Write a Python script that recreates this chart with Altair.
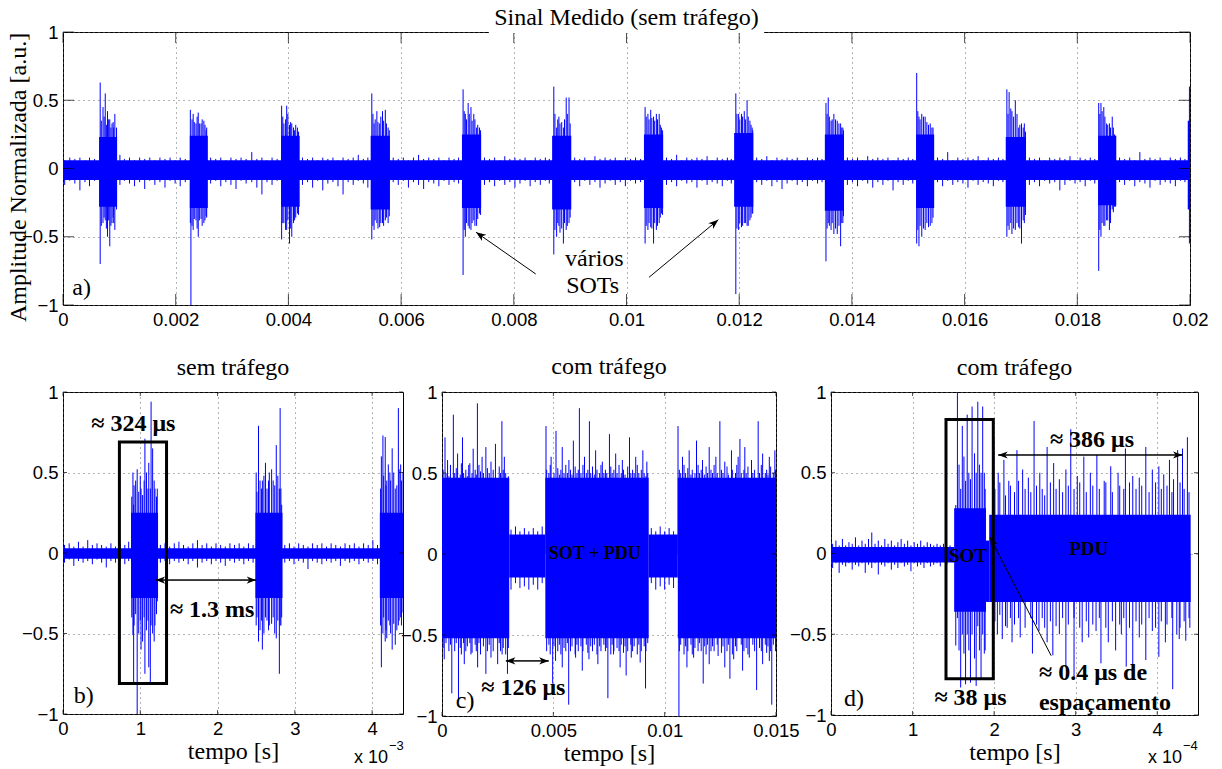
import math
import altair as alt
import pandas as pd

SERIF = "Liberation Serif"
SANS = "Liberation Sans"
BLUE = "#0000ff"
ARROW = "M0,0L-1,-0.38L-0.72,0L-1,0.38Z"

Y_TICKS = [-1, -0.5, 0, 0.5, 1]

# ---------------- panel a: Sinal Medido (sem trafego) ----------------
A_TITLE = "Sinal Medido (sem tráfego)"
A_X_TICKS = [0, 0.002, 0.004, 0.006, 0.008, 0.01, 0.012, 0.014, 0.016, 0.018, 0.02]
A_BASE = [(0.0, 0.02, -0.085, 0.06)]
A_BURSTS = [
    (0.00064, 0.00096, -0.28, 0.23), (0.00225, 0.00257, -0.29, 0.24),
    (0.00387, 0.00420, -0.28, 0.24), (0.00546, 0.00580, -0.30, 0.24),
    (0.00708, 0.00742, -0.29, 0.25), (0.00868, 0.00902, -0.30, 0.24),
    (0.01031, 0.01065, -0.29, 0.25), (0.01191, 0.01225, -0.28, 0.26),
    (0.01352, 0.01386, -0.31, 0.25), (0.01514, 0.01546, -0.29, 0.25),
    (0.01673, 0.01709, -0.28, 0.23), (0.01837, 0.01869, -0.27, 0.24),
    (0.01996, 0.02000, -0.30, 0.35),
]
A_SPIKES = [
    (0.00066, -0.70, 0.63), (0.00071, -0.40, 0.45), (0.00075, -0.38, 0.55), (0.00079, -0.50, 0.42),
    (0.00083, -0.57, 0.36), (0.00087, -0.40, 0.33), (0.00092, -0.45, 0.40), (0.00095, -0.30, 0.30),
    (0.00068, -0.42, 0.35), (0.00073, -0.36, 0.38), (0.00077, -0.44, 0.32), (0.00081, -0.38, 0.36),
    (0.00085, -0.42, 0.30), (0.00089, -0.36, 0.34), (0.00090, -0.40, 0.30),
    (0.00226, -0.40, 0.43), (0.00227, -1.00, 0.20), (0.00231, -0.45, 0.40), (0.00236, -0.38, 0.33),
    (0.00240, -0.50, 0.41), (0.00245, -0.37, 0.33), (0.00250, -0.40, 0.35), (0.00255, -0.36, 0.30),
    (0.00229, -0.42, 0.36), (0.00233, -0.37, 0.34), (0.00238, -0.44, 0.38), (0.00242, -0.38, 0.33),
    (0.00247, -0.42, 0.36), (0.00252, -0.38, 0.32), (0.00254, -0.35, 0.28),
    (0.00388, -0.52, 0.46), (0.00392, -0.40, 0.33), (0.00397, -0.45, 0.46), (0.00402, -0.55, 0.32),
    (0.00406, -0.50, 0.33), (0.00411, -0.38, 0.28), (0.00416, -0.33, 0.30),
    (0.00390, -0.40, 0.38), (0.00395, -0.45, 0.36), (0.00399, -0.38, 0.40), (0.00404, -0.44, 0.34),
    (0.00409, -0.40, 0.30), (0.00413, -0.36, 0.32), (0.00418, -0.34, 0.27),
    (0.00548, -0.52, 0.55), (0.00552, -0.45, 0.33), (0.00557, -0.40, 0.42), (0.00562, -0.43, 0.33),
    (0.00567, -0.40, 0.42), (0.00572, -0.38, 0.43), (0.00577, -0.40, 0.30),
    (0.00550, -0.42, 0.40), (0.00554, -0.38, 0.36), (0.00559, -0.44, 0.34), (0.00564, -0.40, 0.38),
    (0.00569, -0.42, 0.35), (0.00574, -0.36, 0.33), (0.00579, -0.35, 0.28),
    (0.00710, -0.78, 0.58), (0.00714, -0.50, 0.40), (0.00719, -0.42, 0.48), (0.00724, -0.45, 0.45),
    (0.00729, -0.38, 0.40), (0.00734, -0.42, 0.30), (0.00739, -0.33, 0.30),
    (0.00712, -0.45, 0.42), (0.00716, -0.40, 0.36), (0.00721, -0.44, 0.40), (0.00726, -0.40, 0.35),
    (0.00731, -0.42, 0.36), (0.00736, -0.37, 0.32), (0.00741, -0.34, 0.28),
    (0.00871, -0.63, 0.60), (0.00876, -0.50, 0.30), (0.00882, -0.47, 0.33), (0.00888, -0.55, 0.30),
    (0.00893, -0.45, 0.52), (0.00898, -0.40, 0.52),
    (0.00873, -0.45, 0.40), (0.00878, -0.40, 0.36), (0.00880, -0.42, 0.38), (0.00885, -0.44, 0.34),
    (0.00890, -0.40, 0.36), (0.00895, -0.42, 0.40), (0.00900, -0.36, 0.33),
    (0.01033, -0.55, 0.45), (0.01038, -0.45, 0.40), (0.01043, -0.43, 0.43), (0.01048, -0.55, 0.38),
    (0.01053, -0.45, 0.40), (0.01058, -0.40, 0.40), (0.01062, -0.33, 0.30),
    (0.01035, -0.42, 0.38), (0.01040, -0.40, 0.36), (0.01045, -0.44, 0.37), (0.01050, -0.40, 0.35),
    (0.01055, -0.42, 0.36), (0.01060, -0.36, 0.32), (0.01064, -0.34, 0.28),
    (0.01194, -0.92, 0.55), (0.01199, -0.45, 0.40), (0.01204, -0.43, 0.40), (0.01209, -0.40, 0.42),
    (0.01214, -0.42, 0.50), (0.01219, -0.38, 0.35), (0.01223, -0.33, 0.30),
    (0.01196, -0.44, 0.40), (0.01201, -0.40, 0.36), (0.01206, -0.42, 0.38), (0.01211, -0.40, 0.36),
    (0.01216, -0.42, 0.38), (0.01221, -0.36, 0.32), (0.01224, -0.33, 0.28),
    (0.01354, -0.68, 0.48), (0.01358, -0.40, 0.52), (0.01363, -0.45, 0.35), (0.01368, -0.48, 0.40),
    (0.01374, -0.48, 0.35), (0.01380, -0.57, 0.33), (0.01384, -0.40, 0.30),
    (0.01356, -0.44, 0.40), (0.01360, -0.42, 0.38), (0.01365, -0.40, 0.36), (0.01371, -0.44, 0.36),
    (0.01377, -0.42, 0.33), (0.01382, -0.40, 0.30), (0.01385, -0.35, 0.28),
    (0.01515, -0.55, 0.70), (0.01519, -0.57, 0.38), (0.01524, -0.50, 0.40), (0.01530, -0.45, 0.38),
    (0.01536, -0.43, 0.32), (0.01542, -0.40, 0.30),
    (0.01517, -0.45, 0.42), (0.01521, -0.42, 0.36), (0.01527, -0.44, 0.38), (0.01533, -0.40, 0.34),
    (0.01539, -0.42, 0.33), (0.01544, -0.36, 0.30),
    (0.01675, -0.50, 0.58), (0.01679, -0.45, 0.56), (0.01684, -0.48, 0.42), (0.01690, -0.45, 0.50),
    (0.01696, -0.43, 0.30), (0.01701, -0.55, 0.33), (0.01706, -0.40, 0.33),
    (0.01677, -0.42, 0.40), (0.01682, -0.40, 0.44), (0.01687, -0.44, 0.38), (0.01693, -0.40, 0.40),
    (0.01698, -0.44, 0.32), (0.01704, -0.38, 0.30), (0.01708, -0.34, 0.27),
    (0.01838, -0.75, 0.48), (0.01842, -0.50, 0.48), (0.01847, -0.42, 0.45), (0.01852, -0.38, 0.33),
    (0.01857, -0.45, 0.33), (0.01862, -0.30, 0.38), (0.01866, -0.28, 0.25),
    (0.01840, -0.45, 0.40), (0.01844, -0.40, 0.42), (0.01849, -0.42, 0.38), (0.01854, -0.38, 0.32),
    (0.01859, -0.40, 0.30), (0.01864, -0.32, 0.30), (0.01868, -0.28, 0.24),
    (0.01999, -0.55, 0.60),
]
A_NOISE = [
    (0.00003, -0.12, 0.06), (0.00012, -0.09, 0.08), (0.00021, -0.11, 0.07), (0.00030, -0.16, 0.08),
    (0.00039, -0.10, 0.06), (0.00047, -0.13, 0.08), (0.00056, -0.09, 0.07),
    (0.00101, -0.12, 0.10), (0.00109, -0.09, 0.07), (0.00118, -0.11, 0.08), (0.00127, -0.13, 0.06),
    (0.00136, -0.10, 0.08), (0.00145, -0.15, 0.07), (0.00154, -0.09, 0.08), (0.00163, -0.12, 0.06),
    (0.00172, -0.10, 0.08), (0.00181, -0.14, 0.07), (0.00190, -0.09, 0.08), (0.00199, -0.11, 0.06),
    (0.00208, -0.13, 0.08), (0.00217, -0.10, 0.07),
    (0.00262, -0.11, 0.08), (0.00271, -0.09, 0.07), (0.00280, -0.13, 0.08), (0.00289, -0.10, 0.06),
    (0.00298, -0.12, 0.08), (0.00307, -0.15, 0.07), (0.00316, -0.09, 0.08), (0.00325, -0.11, 0.07),
    (0.00335, -0.10, 0.12), (0.00344, -0.14, 0.07), (0.00353, -0.19, 0.08), (0.00362, -0.10, 0.06),
    (0.00371, -0.12, 0.08), (0.00380, -0.09, 0.07),
    (0.00425, -0.12, 0.08), (0.00434, -0.10, 0.07), (0.00443, -0.14, 0.08), (0.00452, -0.09, 0.06),
    (0.00461, -0.16, 0.08), (0.00470, -0.11, 0.07), (0.00479, -0.10, 0.08), (0.00488, -0.13, 0.06),
    (0.00497, -0.19, 0.08), (0.00506, -0.10, 0.07), (0.00515, -0.12, 0.08), (0.00524, -0.09, 0.10),
    (0.00533, -0.11, 0.07), (0.00541, -0.14, 0.08),
    (0.00586, -0.10, 0.08), (0.00595, -0.12, 0.07), (0.00604, -0.09, 0.08), (0.00613, -0.14, 0.06),
    (0.00622, -0.10, 0.08), (0.00631, -0.12, 0.10), (0.00640, -0.15, 0.07), (0.00649, -0.10, 0.08),
    (0.00658, -0.11, 0.07), (0.00667, -0.13, 0.08), (0.00676, -0.09, 0.06), (0.00685, -0.12, 0.08),
    (0.00694, -0.10, 0.07), (0.00702, -0.11, 0.08),
    (0.00748, -0.12, 0.08), (0.00757, -0.10, 0.07), (0.00766, -0.13, 0.08), (0.00775, -0.09, 0.06),
    (0.00784, -0.12, 0.09), (0.00793, -0.10, 0.07), (0.00802, -0.14, 0.08), (0.00811, -0.11, 0.07),
    (0.00820, -0.09, 0.08), (0.00829, -0.13, 0.06), (0.00838, -0.10, 0.08), (0.00847, -0.12, 0.07),
    (0.00856, -0.09, 0.08), (0.00863, -0.11, 0.07),
    (0.00908, -0.10, 0.08), (0.00917, -0.13, 0.07), (0.00926, -0.09, 0.08), (0.00935, -0.12, 0.06),
    (0.00944, -0.10, 0.09), (0.00953, -0.14, 0.07), (0.00962, -0.11, 0.08), (0.00971, -0.09, 0.07),
    (0.00980, -0.12, 0.08), (0.00989, -0.10, 0.06), (0.00998, -0.13, 0.08), (0.01007, -0.09, 0.07),
    (0.01016, -0.11, 0.08), (0.01025, -0.10, 0.07),
    (0.01071, -0.12, 0.08), (0.01080, -0.10, 0.07), (0.01089, -0.13, 0.10), (0.01098, -0.09, 0.06),
    (0.01107, -0.11, 0.08), (0.01116, -0.10, 0.07), (0.01125, -0.14, 0.08), (0.01134, -0.09, 0.07),
    (0.01143, -0.12, 0.09), (0.01152, -0.10, 0.06), (0.01161, -0.11, 0.08), (0.01170, -0.13, 0.07),
    (0.01179, -0.09, 0.08), (0.01186, -0.11, 0.07),
    (0.01231, -0.10, 0.08), (0.01240, -0.12, 0.07), (0.01249, -0.09, 0.09), (0.01258, -0.13, 0.06),
    (0.01267, -0.10, 0.08), (0.01276, -0.15, 0.07), (0.01285, -0.11, 0.08), (0.01294, -0.09, 0.07),
    (0.01303, -0.12, 0.08), (0.01312, -0.10, 0.06), (0.01321, -0.13, 0.08), (0.01330, -0.09, 0.07),
    (0.01339, -0.11, 0.08), (0.01347, -0.10, 0.07),
    (0.01392, -0.12, 0.08), (0.01401, -0.10, 0.07), (0.01410, -0.13, 0.08), (0.01419, -0.09, 0.06),
    (0.01428, -0.11, 0.09), (0.01437, -0.14, 0.07), (0.01446, -0.10, 0.08), (0.01455, -0.12, 0.07),
    (0.01464, -0.09, 0.08), (0.01473, -0.16, 0.06), (0.01482, -0.10, 0.08), (0.01491, -0.12, 0.07),
    (0.01500, -0.09, 0.08), (0.01508, -0.11, 0.07),
    (0.01552, -0.10, 0.08), (0.01561, -0.13, 0.07), (0.01570, -0.09, 0.12), (0.01579, -0.12, 0.06),
    (0.01588, -0.10, 0.08), (0.01597, -0.11, 0.07), (0.01606, -0.14, 0.08), (0.01615, -0.09, 0.07),
    (0.01624, -0.12, 0.09), (0.01633, -0.10, 0.06), (0.01642, -0.11, 0.08), (0.01651, -0.13, 0.07),
    (0.01660, -0.09, 0.08), (0.01668, -0.10, 0.07),
    (0.01715, -0.12, 0.08), (0.01724, -0.10, 0.07), (0.01733, -0.13, 0.08), (0.01742, -0.09, 0.06),
    (0.01751, -0.11, 0.08), (0.01760, -0.10, 0.07), (0.01769, -0.16, 0.08), (0.01778, -0.12, 0.07),
    (0.01787, -0.09, 0.09), (0.01796, -0.11, 0.06), (0.01805, -0.10, 0.08), (0.01814, -0.13, 0.07),
    (0.01823, -0.09, 0.08), (0.01831, -0.11, 0.07),
    (0.01875, -0.10, 0.08), (0.01884, -0.12, 0.07), (0.01893, -0.09, 0.08), (0.01902, -0.13, 0.06),
    (0.01911, -0.10, 0.12), (0.01920, -0.11, 0.07), (0.01929, -0.14, 0.08), (0.01938, -0.09, 0.07),
    (0.01947, -0.12, 0.08), (0.01956, -0.10, 0.06), (0.01965, -0.11, 0.08), (0.01974, -0.13, 0.07),
    (0.01983, -0.09, 0.08), (0.01991, -0.10, 0.07),
]
A_ARROWS = [(0.00839, -0.773, 0.00733, -0.467), (0.01040, -0.797, 0.01163, -0.375)]
A_TEXT = [(0.00943, -0.66, "vários"), (0.00940, -0.86, "SOTs"), (0.00033, -0.878, "a)")]

# ---------------- panel b: sem trafego (zoom) ----------------
B_TITLE = "sem tráfego"
B_X_TICKS = [0, 0.001, 0.002, 0.003, 0.004]
B_BASE = [(0.0, 0.0044, -0.035, 0.03)]
B_BURSTS = [(0.00088, 0.00123, -0.28, 0.25), (0.00249, 0.00284, -0.28, 0.25), (0.00410, 0.00440, -0.28, 0.25)]
B_SPIKES = [
    (0.000905, -0.51, 0.50), (0.000914, -0.82, 0.30), (0.00096, -1.00, 0.52), (0.00101, -0.60, 0.40),
    (0.00106, -0.75, 0.71), (0.00111, -0.71, 0.56), (0.00113, -0.82, 0.40), (0.00114, -0.45, 0.94),
    (0.00116, -0.50, 0.65), (0.00119, -0.45, 0.40), (0.00122, -0.30, 0.40),
    (0.00089, -0.40, 0.35), (0.00092, -0.45, 0.42), (0.00094, -0.38, 0.45), (0.00098, -0.50, 0.38),
    (0.00100, -0.42, 0.48), (0.00103, -0.55, 0.36), (0.00105, -0.40, 0.45), (0.00108, -0.48, 0.50),
    (0.00110, -0.42, 0.40), (0.00118, -0.55, 0.45), (0.00121, -0.38, 0.35),
    (0.00250, -0.45, 0.50), (0.00253, -0.55, 0.79), (0.00258, -0.60, 0.45), (0.00262, -0.40, 0.56),
    (0.00267, -0.45, 0.50), (0.00272, -0.40, 0.45), (0.00276, -0.53, 0.67), (0.00280, -0.75, 0.40),
    (0.00281, -0.45, 0.90), (0.00283, -0.40, 0.30),
    (0.00251, -0.40, 0.38), (0.00255, -0.48, 0.45), (0.00257, -0.42, 0.40), (0.00260, -0.50, 0.48),
    (0.00264, -0.42, 0.40), (0.00266, -0.48, 0.45), (0.00270, -0.44, 0.52), (0.00274, -0.50, 0.42),
    (0.00278, -0.42, 0.48), (0.00282, -0.45, 0.40),
    (0.00412, -0.71, 0.60), (0.00414, -0.50, 0.73), (0.00417, -0.55, 0.72), (0.00419, -0.53, 0.45),
    (0.00423, -0.45, 0.50), (0.00426, -0.60, 0.65), (0.00430, -0.57, 0.40), (0.00434, -0.45, 0.90),
    (0.00437, -0.40, 0.55), (0.00440, -0.37, 0.50),
    (0.00411, -0.45, 0.40), (0.00415, -0.40, 0.48), (0.00418, -0.48, 0.42), (0.00421, -0.42, 0.55),
    (0.00424, -0.50, 0.45), (0.00428, -0.44, 0.50), (0.00432, -0.48, 0.42), (0.00435, -0.42, 0.52),
    (0.00438, -0.45, 0.45),
]
B_NOISE = [
    (0.00002, -0.06, 0.05), (0.00008, -0.04, 0.06), (0.00014, -0.08, 0.04), (0.00020, -0.05, 0.07),
    (0.00026, -0.06, 0.04), (0.00032, -0.05, 0.08), (0.00038, -0.07, 0.05), (0.00044, -0.04, 0.06),
    (0.00050, -0.06, 0.05), (0.00056, -0.09, 0.04), (0.00062, -0.05, 0.06), (0.00068, -0.06, 0.04),
    (0.00074, -0.05, 0.06), (0.00080, -0.07, 0.05), (0.00085, -0.05, 0.07),
    (0.00126, -0.06, 0.05), (0.00132, -0.05, 0.06), (0.00138, -0.07, 0.04), (0.00144, -0.05, 0.06),
    (0.00150, -0.06, 0.07), (0.00156, -0.05, 0.05), (0.00162, -0.07, 0.04), (0.00168, -0.05, 0.06),
    (0.00174, -0.09, 0.08), (0.00180, -0.06, 0.05), (0.00186, -0.05, 0.06), (0.00192, -0.07, 0.04),
    (0.00198, -0.05, 0.06), (0.00204, -0.06, 0.05), (0.00210, -0.08, 0.04), (0.00216, -0.05, 0.06),
    (0.00222, -0.06, 0.05), (0.00228, -0.05, 0.06), (0.00234, -0.07, 0.04), (0.00240, -0.05, 0.06),
    (0.00246, -0.06, 0.05),
    (0.00287, -0.06, 0.05), (0.00293, -0.05, 0.06), (0.00299, -0.07, 0.04), (0.00305, -0.05, 0.06),
    (0.00311, -0.06, 0.05), (0.00317, -0.10, 0.04), (0.00323, -0.05, 0.06), (0.00329, -0.06, 0.05),
    (0.00335, -0.07, 0.06), (0.00341, -0.05, 0.04), (0.00347, -0.06, 0.06), (0.00353, -0.05, 0.05),
    (0.00359, -0.08, 0.04), (0.00365, -0.05, 0.06), (0.00371, -0.06, 0.05), (0.00377, -0.05, 0.06),
    (0.00383, -0.07, 0.04), (0.00389, -0.05, 0.06), (0.00395, -0.06, 0.05), (0.00401, -0.05, 0.08),
    (0.00407, -0.07, 0.05),
]
B_BOX = [(0.00073, 0.00134, -0.81, 0.69)]
B_DARROWS = [(0.00120, 0.00250, -0.168)]
B_BOLD = [(0.00091, 0.80, "≈ 324 μs"), (0.00193, -0.354, "≈ 1.3 ms")]
B_TEXT = [(0.00027, -0.89, "b)")]

# ---------------- panel c: com trafego ----------------
C_TITLE = "com tráfego"
C_X_TICKS = [0, 0.005, 0.01, 0.015]
C_BANDS = [
    (0.0, 0.00302, -0.52, 0.47), (0.00302, 0.00464, -0.145, 0.12),
    (0.00464, 0.00928, -0.52, 0.47), (0.00928, 0.01059, -0.145, 0.12),
    (0.01059, 0.01500, -0.52, 0.47),
]
C_SPIKES = [
    (0.000135, 0, 0.72), (0.00051, 0, 0.86), (0.00092, 0, 0.72), (0.00159, 0, 0.93), (0.00197, 0, 0.66),
    (0.00269, 0, 0.82), (0.00467, 0, 0.79), (0.00512, 0, 0.76), (0.00617, 0, 0.90), (0.00662, 0, 0.82),
    (0.00752, 0, 0.74), (0.00842, 0, 0.72), (0.00902, 0, 0.64), (0.01060, 0, 0.79), (0.01143, 0, 0.70),
    (0.01248, 0, 0.82), (0.01338, 0, 0.71), (0.01420, 0, 0.82), (0.01495, 0, 0.64),
    (0.00025, 0, 0.58), (0.00070, 0, 0.62), (0.00120, 0, 0.55), (0.00140, 0, 0.65), (0.00180, 0, 0.60),
    (0.00220, 0, 0.57), (0.00240, 0, 0.68), (0.00280, 0, 0.60), (0.00490, 0, 0.60), (0.00540, 0, 0.66),
    (0.00570, 0, 0.58), (0.00590, 0, 0.70), (0.00640, 0, 0.60), (0.00690, 0, 0.64), (0.00720, 0, 0.57),
    (0.00780, 0, 0.62), (0.00810, 0, 0.58), (0.00870, 0, 0.60), (0.00920, 0, 0.57), (0.01080, 0, 0.60),
    (0.01110, 0, 0.64), (0.01170, 0, 0.58), (0.01200, 0, 0.66), (0.01230, 0, 0.60), (0.01270, 0, 0.57),
    (0.01300, 0, 0.64), (0.01330, 0, 0.60), (0.01360, 0, 0.66), (0.01390, 0, 0.58), (0.01440, 0, 0.62),
    (0.01470, 0, 0.60),
    (0.00044, -0.86, 0), (0.00074, -0.91, 0), (0.00197, -0.74, 0), (0.00294, -0.74, 0), (0.00497, -0.80, 0),
    (0.00569, -0.93, 0), (0.00745, -0.89, 0), (0.00827, -0.75, 0), (0.00914, -0.83, 0), (0.01064, -1.00, 0),
    (0.01173, -0.80, 0), (0.01293, -0.77, 0), (0.01413, -0.84, 0), (0.01481, -0.93, 0),
    (0.00010, -0.65, 0), (0.00100, -0.68, 0), (0.00130, -0.62, 0), (0.00160, -0.70, 0), (0.00220, -0.64, 0),
    (0.00250, -0.68, 0), (0.00270, -0.62, 0), (0.00510, -0.66, 0), (0.00540, -0.70, 0), (0.00600, -0.64, 0),
    (0.00630, -0.72, 0), (0.00660, -0.65, 0), (0.00700, -0.68, 0), (0.00770, -0.62, 0), (0.00800, -0.70, 0),
    (0.00850, -0.64, 0), (0.00890, -0.67, 0), (0.01100, -0.70, 0), (0.01130, -0.64, 0), (0.01200, -0.68, 0),
    (0.01240, -0.63, 0), (0.01270, -0.70, 0), (0.01310, -0.65, 0), (0.01350, -0.72, 0), (0.01380, -0.64, 0),
    (0.01440, -0.68, 0), (0.01470, -0.66, 0),
    (0.00005, -0.58, 0.52), (0.00018, -0.55, 0.50), (0.00031, -0.60, 0.48), (0.00038, -0.56, 0.55),
    (0.00057, -0.60, 0.50), (0.00064, -0.55, 0.53), (0.00082, -0.58, 0.49), (0.00087, -0.62, 0.56),
    (0.00097, -0.55, 0.50), (0.00107, -0.60, 0.52), (0.00114, -0.57, 0.48), (0.00125, -0.55, 0.56),
    (0.00135, -0.61, 0.50), (0.00149, -0.56, 0.52), (0.00154, -0.60, 0.49), (0.00166, -0.55, 0.55),
    (0.00173, -0.62, 0.51), (0.00186, -0.57, 0.50), (0.00204, -0.60, 0.53), (0.00212, -0.56, 0.50),
    (0.00230, -0.60, 0.52), (0.00257, -0.55, 0.54), (0.00263, -0.60, 0.50), (0.00275, -0.58, 0.52),
    (0.00286, -0.62, 0.50), (0.00298, -0.58, 0.48),
    (0.00470, -0.60, 0.52), (0.00480, -0.56, 0.50), (0.00486, -0.62, 0.55), (0.00503, -0.57, 0.50),
    (0.00520, -0.60, 0.53), (0.00527, -0.56, 0.49), (0.00534, -0.62, 0.52), (0.00548, -0.58, 0.50),
    (0.00556, -0.60, 0.55), (0.00563, -0.55, 0.50), (0.00577, -0.60, 0.52), (0.00584, -0.57, 0.49),
    (0.00598, -0.62, 0.54), (0.00606, -0.56, 0.50), (0.00612, -0.60, 0.52), (0.00624, -0.57, 0.50),
    (0.00633, -0.60, 0.55), (0.00648, -0.56, 0.50), (0.00655, -0.61, 0.52), (0.00668, -0.57, 0.50),
    (0.00676, -0.60, 0.54), (0.00684, -0.56, 0.49), (0.00696, -0.62, 0.52), (0.00708, -0.57, 0.50),
    (0.00714, -0.60, 0.55), (0.00727, -0.56, 0.50), (0.00734, -0.60, 0.52), (0.00740, -0.58, 0.50),
    (0.00758, -0.62, 0.54), (0.00764, -0.56, 0.50), (0.00772, -0.60, 0.52), (0.00786, -0.58, 0.50),
    (0.00795, -0.60, 0.55), (0.00805, -0.56, 0.50), (0.00815, -0.61, 0.52), (0.00822, -0.57, 0.49),
    (0.00834, -0.60, 0.54), (0.00848, -0.56, 0.50), (0.00856, -0.60, 0.52), (0.00863, -0.57, 0.50),
    (0.00877, -0.62, 0.55), (0.00884, -0.56, 0.50), (0.00895, -0.60, 0.52), (0.00908, -0.57, 0.50),
    (0.00916, -0.60, 0.48), (0.00924, -0.55, 0.50),
    (0.01066, -0.60, 0.52), (0.01072, -0.56, 0.50), (0.01087, -0.62, 0.55), (0.01094, -0.57, 0.50),
    (0.01104, -0.60, 0.53), (0.01118, -0.56, 0.49), (0.01124, -0.62, 0.52), (0.01136, -0.58, 0.50),
    (0.01150, -0.60, 0.55), (0.01156, -0.55, 0.50), (0.01164, -0.60, 0.52), (0.01178, -0.57, 0.49),
    (0.01186, -0.62, 0.54), (0.01192, -0.56, 0.50), (0.01208, -0.60, 0.52), (0.01215, -0.57, 0.50),
    (0.01222, -0.60, 0.55), (0.01236, -0.56, 0.50), (0.01255, -0.61, 0.52), (0.01262, -0.57, 0.50),
    (0.01280, -0.60, 0.54), (0.01286, -0.56, 0.49), (0.01304, -0.62, 0.52), (0.01318, -0.57, 0.50),
    (0.01324, -0.60, 0.55), (0.01344, -0.56, 0.50), (0.01356, -0.60, 0.52), (0.01366, -0.58, 0.50),
    (0.01374, -0.62, 0.54), (0.01396, -0.56, 0.50), (0.01404, -0.60, 0.52), (0.01426, -0.58, 0.50),
    (0.01434, -0.60, 0.55), (0.01452, -0.56, 0.50), (0.01458, -0.61, 0.52), (0.01464, -0.57, 0.49),
    (0.01476, -0.60, 0.54), (0.01488, -0.56, 0.50), (0.01498, -0.60, 0.52),
    (0.00310, -0.22, 0.15), (0.00330, -0.18, 0.17), (0.00350, -0.21, 0.14), (0.00370, -0.20, 0.16),
    (0.00390, -0.22, 0.14), (0.00410, -0.19, 0.16), (0.00430, -0.22, 0.14), (0.00450, -0.18, 0.17),
    (0.00940, -0.18, 0.16), (0.00960, -0.22, 0.14), (0.00980, -0.20, 0.17), (0.01000, -0.22, 0.14),
    (0.01020, -0.19, 0.16), (0.01040, -0.21, 0.14),
]
C_DARROWS = [(0.00287, 0.00479, -0.66)]
C_BOLD = [(0.00365, -0.83, "≈ 126 μs")]
C_SMALLBOLD = [(0.00686, 0.0, "SOT + PDU")]
C_TEXT = [(0.00104, -0.91, "c)")]

# ---------------- panel d: com trafego (zoom) ----------------
D_TITLE = "com tráfego"
D_X_TICKS = [0, 0.0001, 0.0002, 0.0003, 0.0004]
D_BANDS = [
    (0.0, 0.000151, -0.055, 0.04), (0.000151, 0.000190, -0.36, 0.28),
    (0.000190, 0.000194, -0.30, 0.08), (0.000194, 0.000441, -0.30, 0.24),
]
D_SPIKES = [
    (0.000153, -0.57, 0.30), (0.000155, -0.40, 1.00), (0.000157, -0.60, 0.55), (0.000159, -0.83, 0.40),
    (0.000161, -0.50, 0.79), (0.000163, -0.62, 0.60), (0.000165, -0.81, 0.45), (0.000167, -0.50, 0.86),
    (0.000169, -0.60, 0.50), (0.000171, -0.80, 0.46), (0.000173, -0.50, 0.91), (0.000176, -0.65, 0.62),
    (0.000178, -0.82, 0.50), (0.000180, -0.45, 0.94), (0.000182, -0.60, 0.55), (0.000184, -0.78, 0.50),
    (0.000186, -0.50, 0.91), (0.000188, -0.62, 0.50), (0.000189, -0.60, 0.40),
    (0.0001996, 0, 0.72), (0.000212, 0, 0.58), (0.000228, 0, 0.64), (0.000249, 0, 0.82), (0.000265, 0, 0.66),
    (0.000273, 0, 0.56), (0.000294, 0, 0.77), (0.000310, 0, 0.60), (0.000326, 0, 0.61), (0.000343, 0, 0.54),
    (0.000361, 0, 0.65), (0.000370, 0, 0.48), (0.000386, 0, 0.66), (0.000402, 0, 0.54), (0.000415, 0, 0.58),
    (0.000425, 0, 0.64), (0.000431, 0, 0.65), (0.000437, 0, 0.72),
    (0.000205, 0, 0.50), (0.000218, 0, 0.45), (0.000235, 0, 0.52), (0.000242, 0, 0.47), (0.000256, 0, 0.50),
    (0.000280, 0, 0.46), (0.000288, 0, 0.52), (0.000302, 0, 0.48), (0.000318, 0, 0.50), (0.000335, 0, 0.45),
    (0.000352, 0, 0.50), (0.000378, 0, 0.47), (0.000394, 0, 0.52), (0.000408, 0, 0.49), (0.000420, 0, 0.46),
    (0.000210, -0.53, 0), (0.000222, -0.55, 0), (0.000247, -0.62, 0), (0.000272, -0.63, 0), (0.000288, -0.70, 0),
    (0.000298, -0.77, 0), (0.000308, -0.55, 0), (0.000331, -0.68, 0), (0.000349, -0.60, 0), (0.000362, -0.70, 0),
    (0.000370, -0.78, 0), (0.000386, -0.66, 0), (0.000402, -0.64, 0), (0.000419, -0.84, 0), (0.000427, -0.53, 0),
    (0.000435, -0.54, 0),
    (0.000204, -0.50, 0), (0.000216, -0.46, 0), (0.000232, -0.52, 0), (0.000255, -0.48, 0), (0.000265, -0.55, 0),
    (0.000280, -0.50, 0), (0.000316, -0.52, 0), (0.000325, -0.48, 0), (0.000340, -0.55, 0), (0.000356, -0.50, 0),
    (0.000378, -0.52, 0), (0.000394, -0.48, 0), (0.000410, -0.55, 0), (0.000424, -0.50, 0), (0.000440, -0.46, 0),
    (0.000201, -0.42, 0.40), (0.000207, -0.38, 0.44), (0.000214, -0.45, 0.36), (0.000220, -0.40, 0.42),
    (0.000225, -0.44, 0.38), (0.000230, -0.40, 0.45), (0.000238, -0.46, 0.40), (0.000245, -0.40, 0.38),
    (0.000252, -0.44, 0.42), (0.000259, -0.40, 0.40), (0.000262, -0.46, 0.36), (0.000269, -0.42, 0.44),
    (0.000276, -0.45, 0.40), (0.000284, -0.40, 0.38), (0.000291, -0.44, 0.42), (0.000298, -0.40, 0.40),
    (0.000305, -0.46, 0.44), (0.000313, -0.42, 0.38), (0.000321, -0.44, 0.42), (0.000329, -0.40, 0.40),
    (0.000337, -0.46, 0.44), (0.000345, -0.42, 0.38), (0.000354, -0.44, 0.42), (0.000359, -0.40, 0.40),
    (0.000366, -0.46, 0.44), (0.000374, -0.42, 0.40), (0.000381, -0.44, 0.42), (0.000390, -0.40, 0.38),
    (0.000398, -0.46, 0.44), (0.000405, -0.42, 0.40), (0.000412, -0.44, 0.42), (0.000418, -0.40, 0.38),
    (0.000428, -0.46, 0.44), (0.000433, -0.42, 0.40), (0.000439, -0.40, 0.38),
]
D_NOISE = [
    (0.000002, -0.09, 0.06), (0.000006, -0.06, 0.08), (0.000010, -0.12, 0.05), (0.000014, -0.07, 0.09),
    (0.000018, -0.08, 0.05), (0.000022, -0.06, 0.07), (0.000026, -0.10, 0.06), (0.000030, -0.07, 0.10),
    (0.000034, -0.08, 0.05), (0.000038, -0.06, 0.08), (0.000042, -0.12, 0.06), (0.000046, -0.07, 0.09),
    (0.000050, -0.09, 0.13), (0.000054, -0.06, 0.06), (0.000058, -0.13, 0.08), (0.000062, -0.07, 0.05),
    (0.000066, -0.08, 0.09), (0.000070, -0.06, 0.06), (0.000074, -0.10, 0.08), (0.000078, -0.07, 0.05),
    (0.000082, -0.09, 0.07), (0.000086, -0.06, 0.09), (0.000090, -0.08, 0.06), (0.000094, -0.07, 0.08),
    (0.000098, -0.11, 0.05), (0.000102, -0.06, 0.07), (0.000106, -0.08, 0.06), (0.000110, -0.07, 0.08),
    (0.000114, -0.09, 0.05), (0.000118, -0.06, 0.07), (0.000122, -0.08, 0.06), (0.000126, -0.07, 0.05),
    (0.000130, -0.06, 0.06), (0.000134, -0.08, 0.05), (0.000138, -0.05, 0.06), (0.000142, -0.07, 0.04),
    (0.000146, -0.05, 0.05),
]
D_BOX = [(0.000141, 0.000199, -0.775, 0.83)]
D_DARROWS = [(0.000205, 0.000431, 0.61)]
D_ARROWS = [(0.000270, -0.633, 0.000195, 0.10)]
D_BOLD_C = [(0.000320, 0.705, "≈ 386 μs"), (0.000171, -0.897, "≈ 38 μs")]
D_BOLD_L = [(0.000255, -0.74, "≈ 0.4 μs de"), (0.000255, -0.926, "espaçamento")]
D_SMALLBOLD = [(0.000168, -0.013, "SOT"), (0.000316, 0.028, "PDU")]
D_TEXT = [(0.0000282, -0.90, "d)")]


# ---------------- helpers ----------------
class P:
    """Scales and axes of one panel (the same axis objects are given to every layer)."""

    def __init__(self, w, h, xdom, xaxis, yaxis):
        self.w, self.h = w, h
        self.xs = alt.Scale(domain=xdom, nice=False, zero=False)
        self.ys = alt.Scale(domain=[-1, 1], nice=False, zero=False)
        self.xa, self.ya = xaxis, yaxis
        self.kx = w / (xdom[1] - xdom[0])
        self.ky = h / 2

    def X(self, f):
        return alt.X(f, type="quantitative", scale=self.xs, axis=self.xa)

    def Y(self, f):
        return alt.Y(f, type="quantitative", scale=self.ys, axis=self.ya)


def signal(p, bands, rules):
    bdf = pd.DataFrame(bands, columns=["t0", "t1", "lo", "hi"])
    rdf = pd.DataFrame(rules, columns=["t", "lo", "hi"])
    l1 = alt.Chart(bdf).mark_rect(color=BLUE, clip=True).encode(x=p.X("t0"), x2="t1", y=p.Y("lo"), y2="hi")
    l2 = alt.Chart(rdf).mark_rule(color=BLUE, strokeWidth=1, clip=True).encode(x=p.X("t"), y=p.Y("lo"), y2="hi")
    return [l1, l2]


def inner_ticks(p, xticks, L):
    xdf = pd.DataFrame({"t": xticks})
    ydf = pd.DataFrame({"v": Y_TICKS})
    out = []
    for yy in (L / 2, p.h - L / 2):
        out.append(alt.Chart(xdf).mark_tick(color="black", thickness=1, size=L, orient="vertical").encode(
            x=p.X("t"), y=alt.value(yy)))
    for xx in (L / 2, p.w - L / 2):
        out.append(alt.Chart(ydf).mark_tick(color="black", thickness=1, size=L, orient="horizontal").encode(
            y=p.Y("v"), x=alt.value(xx)))
    return out


def texts(p, rows, size, weight="normal", align="center"):
    df = pd.DataFrame(rows, columns=["t", "y", "label"])
    return alt.Chart(df).mark_text(font=SERIF, fontSize=size, fontWeight=weight, align=align,
                                   baseline="middle", color="black").encode(
        x=p.X("t"), y=p.Y("y"), text="label:N")


def box(p, rows):
    df = pd.DataFrame(rows, columns=["t0", "t1", "lo", "hi"])
    return alt.Chart(df).mark_rect(fill="white", fillOpacity=0, stroke="black", strokeWidth=3).encode(
        x=p.X("t0"), x2="t1", y=p.Y("lo"), y2="hi")


def arrows(p, rows, head=360):
    """rows: (tail_t, tail_y, head_t, head_y)"""
    recs = []
    for t0, y0, t1, y1 in rows:
        ang = math.degrees(math.atan2(-(y1 - y0) * p.ky, (t1 - t0) * p.kx)) % 360
        recs.append({"t0": t0, "y0": y0, "t1": t1, "y1": y1, "ang": ang})
    df = pd.DataFrame(recs)
    shaft = alt.Chart(df).mark_rule(color="black", strokeWidth=1).encode(
        x=p.X("t0"), x2="t1", y=p.Y("y0"), y2="y1")
    tip = alt.Chart(df).mark_point(shape=ARROW, filled=True, size=head, color="black", opacity=1,
                                   strokeWidth=0).encode(
        x=p.X("t1"), y=p.Y("y1"), angle=alt.Angle("ang:Q", scale=None))
    return [shaft, tip]


def double_arrows(p, rows):
    rr = []
    for t0, t1, y in rows:
        rr.append((t0, y, t1, y))
        rr.append((t1, y, t0, y))
    return arrows(p, rr)


def xaxis(values, expr, title):
    kw = dict(values=values, labelExpr=expr)
    if title:
        kw.update(title=title, titleY=44, titleBaseline="alphabetic")
    else:
        kw.update(title=None)
    return alt.Axis(**kw)


def yaxis(title=None, **extra):
    kw = dict(values=Y_TICKS, format="~g")
    if title:
        kw.update(title=title, **extra)
    else:
        kw.update(title=None)
    return alt.Axis(**kw)


def exponent(w_right, y_main, y_sup, sup):
    d1 = pd.DataFrame({"s": ["x 10"]})
    d2 = pd.DataFrame({"s": [sup]})
    return [
        alt.Chart(d1).mark_text(font=SANS, fontSize=18, align="right", baseline="middle", color="black").encode(
            x=alt.value(w_right), y=alt.value(y_main), text="s:N"),
        alt.Chart(d2).mark_text(font=SANS, fontSize=13, align="left", baseline="middle", color="black").encode(
            x=alt.value(w_right + 1), y=alt.value(y_sup), text="s:N"),
    ]


def head_title(p, txt, above):
    """Panel heading drawn as text, 'above' px between its baseline and the plot's top edge."""
    df = pd.DataFrame({"s": [txt]})
    return alt.Chart(df).mark_text(font=SERIF, fontSize=24, align="center", baseline="alphabetic",
                                   color="black").encode(
        x=alt.value(p.w / 2), y=alt.value(-above), text="s:N")


# ---------------- panel a ----------------
pa = P(1127, 273, [0, 0.02],
       xaxis(A_X_TICKS, "format(datum.value, '~g')", None),
       yaxis("Amplitude Normalizada [a.u.]", titleX=-37.5, titleY=145, titleAngle=270,
             titleBaseline="alphabetic", titleAlign="center"))
gap_df = pd.DataFrame({"g": [1]})
layers_a = (
    signal(pa, A_BASE + A_BURSTS, A_NOISE + A_SPIKES)
    + inner_ticks(pa, A_X_TICKS, 11)
    + arrows(pa, A_ARROWS, head=400)
    + [texts(pa, A_TEXT, 24)]
    + [alt.Chart(gap_df).mark_rect(color="white").encode(
        x=alt.value(426), x2=alt.value(701), y=alt.value(-1), y2=alt.value(1))]
    + [head_title(pa, A_TITLE, 7)]
)
top = alt.layer(*layers_a).properties(width=pa.w, height=pa.h)

# ---------------- panel b ----------------
pbp = P(340, 322, [0, 0.0044], xaxis(B_X_TICKS, "format(datum.value * 1000, '~g')", "tempo [s]"), yaxis())
layers_b = (
    signal(pbp, B_BASE + B_BURSTS, B_NOISE + B_SPIKES)
    + inner_ticks(pbp, B_X_TICKS, 4)
    + [box(pbp, B_BOX)]
    + double_arrows(pbp, B_DARROWS)
    + [texts(pbp, B_BOLD, 24, "bold"), texts(pbp, B_TEXT, 24)]
    + exponent(325, 366, 354, "−3")
    + [head_title(pbp, B_TITLE, 17)]
)
pb = alt.layer(*layers_b).properties(width=pbp.w, height=pbp.h)

# ---------------- panel c ----------------
pcp = P(334, 324, [0, 0.015], xaxis(C_X_TICKS, "format(datum.value, '~g')", "tempo [s]"), yaxis())
layers_c = (
    signal(pcp, C_BANDS, C_SPIKES)
    + inner_ticks(pcp, C_X_TICKS, 4)
    + double_arrows(pcp, C_DARROWS)
    + [texts(pcp, C_BOLD, 24, "bold"), texts(pcp, C_SMALLBOLD, 18, "bold"), texts(pcp, C_TEXT, 24)]
    + [head_title(pcp, C_TITLE, 18)]
)
pc = alt.layer(*layers_c).properties(width=pcp.w, height=pcp.h)

# ---------------- panel d ----------------
pdp = P(367, 323, [0, 0.00045], xaxis(D_X_TICKS, "format(datum.value * 10000, '~g')", "tempo [s]"), yaxis())
layers_d = (
    signal(pdp, D_BANDS, D_NOISE + D_SPIKES)
    + inner_ticks(pdp, D_X_TICKS, 4)
    + [box(pdp, D_BOX)]
    + double_arrows(pdp, D_DARROWS)
    + arrows(pdp, D_ARROWS)
    + [texts(pdp, D_BOLD_C, 24, "bold"), texts(pdp, D_BOLD_L, 24, "bold", align="left"),
       texts(pdp, D_SMALLBOLD, 19, "bold"), texts(pdp, D_TEXT, 24)]
    + exponent(351, 366, 354, "−4")
    + [head_title(pdp, D_TITLE, 17)]
)
pdd = alt.layer(*layers_d).properties(width=pdp.w, height=pdp.h)

bottom = alt.hconcat(pb, alt.hconcat(pc, pdd, spacing=55, bounds="flush"), spacing=39, bounds="flush")
chart = alt.vconcat(top, bottom, spacing=87, bounds="flush").properties(
    padding={"left": 5, "top": 5, "right": 5, "bottom": 5},
    background="white",
).configure_view(stroke="black", strokeWidth=1).configure_axis(
    labelFont=SANS, labelFontSize=18.5, labelColor="black", labelPadding=5,
    labelFlush=False, labelOverlap=False,
    titleFont=SERIF, titleFontSize=24, titleFontWeight="normal", titleColor="black",
    ticks=False, domain=False, grid=True, gridColor="#666666", gridDash=[1, 4], gridWidth=1,
)

chart.save("out.html", embed_options={"renderer": "svg", "actions": False})
